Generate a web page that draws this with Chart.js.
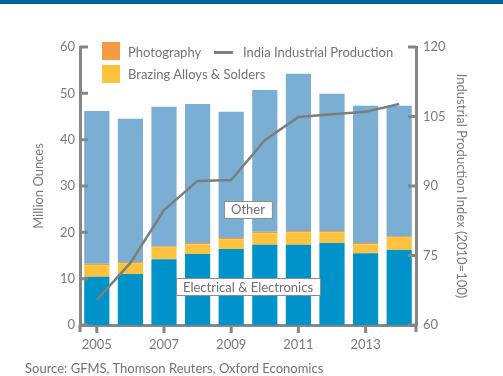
<!DOCTYPE html>
<html>
<head>
<meta charset="utf-8">
<script src="https://cdn.jsdelivr.net/npm/chart.js@4.4.1/dist/chart.umd.min.js"></script>
<style>
  html, body { margin: 0; padding: 0; background: #fff; }
  body { width: 503px; height: 376px; position: relative; overflow: hidden; font-family: Lato, sans-serif; color: #737373; }
  .band { position: absolute; left: 0; top: 0; width: 503px; height: 4px; background: #00629e; }
  #wrap { position: absolute; left: 0; top: 0; width: 503px; height: 376px; }
  .lg { position: absolute; font-size: 13px; line-height: 18px; white-space: nowrap; }
  .sw { position: absolute; width: 18px; height: 18px; }
  .ln { position: absolute; width: 19px; height: 3px; background: #7f7f7f; }
  .src { position: absolute; left: 25px; top: 360px; font-size: 13px; white-space: nowrap; }
</style>
</head>
<body>
<div class="band"></div>
<div id="wrap"><canvas id="silverChart" width="503" height="376"></canvas></div>
<div class="sw" style="left:102px;top:42px;background:#f59b42"></div>
<div class="lg" style="left:128px;top:43px">Photography</div>
<div class="ln" style="left:214px;top:51px"></div>
<div class="lg" style="left:243px;top:43px">India Industrial Production</div>
<div class="sw" style="left:102px;top:65px;background:#fdc33f"></div>
<div class="lg" style="left:128px;top:65px">Brazing Alloys &amp; Solders</div>
<div class="src">Source: GFMS, Thomson Reuters, Oxford Economics</div>
<script>
(function () {
    const years = ['2005', '2006', '2007', '2008', '2009', '2010', '2011', '2012', '2013', '2014'];
    const electrical = [10.4, 11.0, 14.2, 15.3, 16.4, 17.3, 17.3, 17.7, 15.5, 16.2];
    const brazing = [2.5, 2.3, 2.5, 2.1, 2.1, 2.5, 2.7, 2.3, 1.9, 2.7];
    const photography = [0.3, 0.3, 0.3, 0.3, 0.3, 0.3, 0.3, 0.3, 0.3, 0.3];
    const other = [33.0, 30.9, 30.1, 30.0, 27.2, 30.6, 33.9, 29.6, 29.6, 28.1];
    const indiaIP = [65.4, 73.4, 84.8, 91.1, 91.3, 99.9, 104.9, 105.5, 106.0, 107.7];
    const leftTicks = [0, 10, 20, 30, 40, 50, 60];
    const rightTicks = [60, 75, 90, 105, 120];

    const axisGrey = '#868686';
    const labelGrey = '#7a7a7a';
    const font = { family: 'Lato', size: 13 };

    // inward tick marks, axis tails and the two boxed labels
    const axisDecor = {
        id: 'axisDecor',
        afterDraw(chart) {
            const { ctx, chartArea: a, scales } = chart;
            ctx.save();
            ctx.strokeStyle = axisGrey;
            ctx.lineWidth = 3;
            ctx.beginPath();
            leftTicks.forEach(v => {
                const y = scales.y.getPixelForValue(v);
                ctx.moveTo(a.left, y); ctx.lineTo(a.left + 8, y);
            });
            rightTicks.forEach(v => {
                const y = scales.y1.getPixelForValue(v);
                ctx.moveTo(a.right - 8, y); ctx.lineTo(a.right, y);
            });
            years.forEach((y, i) => {
                if (i % 2) return;
                const x = scales.x.getPixelForValue(i);
                ctx.moveTo(x, a.bottom); ctx.lineTo(x, a.bottom + 8);
            });
            ctx.moveTo(a.left, a.bottom); ctx.lineTo(a.left, a.bottom + 7);
            ctx.moveTo(a.right, a.bottom); ctx.lineTo(a.right, a.bottom + 7);
            ctx.stroke();

            const cx = (scales.x.getPixelForValue(4) + scales.x.getPixelForValue(5)) / 2;
            box(ctx, 'Other', cx, scales.y.getPixelForValue(25));
            box(ctx, 'Electrical & Electronics', cx, scales.y.getPixelForValue(8.3));
            ctx.restore();
        }
    };

    function box(ctx, txt, cx, cy) {
        ctx.font = '13px Lato';
        const w = ctx.measureText(txt).width + 14;
        const h = 17;
        const x = Math.round(cx - w / 2) + 0.5, y = Math.round(cy - h / 2) + 0.5;
        ctx.fillStyle = '#fff';
        ctx.fillRect(x, y, w, h);
        ctx.lineWidth = 1;
        ctx.strokeStyle = '#8c8c8c';
        ctx.strokeRect(x, y, w, h);
        ctx.fillStyle = '#6f6f6f';
        ctx.textAlign = 'center';
        ctx.textBaseline = 'middle';
        ctx.fillText(txt, cx, cy + 1);
    }

    const barOpts = { stack: 's', yAxisID: 'y', barPercentage: 0.75, categoryPercentage: 1, borderWidth: 0 };

    new Chart(document.getElementById('silverChart'), {
        data: {
            labels: years,
            datasets: [
                { type: 'line', label: 'India Industrial Production', data: indiaIP, yAxisID: 'y1',
                  borderColor: '#7d7d7d', borderWidth: 2.5, pointRadius: 0, tension: 0, order: 0 },
                Object.assign({ type: 'bar', label: 'Electrical & Electronics', data: electrical, backgroundColor: '#0093c9', order: 1 }, barOpts),
                Object.assign({ type: 'bar', label: 'Brazing Alloys & Solders', data: brazing, backgroundColor: '#fdc33f', order: 1 }, barOpts),
                Object.assign({ type: 'bar', label: 'Photography', data: photography, backgroundColor: '#f59b42', order: 1 }, barOpts),
                Object.assign({ type: 'bar', label: 'Other', data: other, backgroundColor: '#7aaed2', order: 1 }, barOpts)
            ]
        },
        options: {
            responsive: false,
            animation: false,
            layout: { padding: { top: 47, left: 0, right: 0, bottom: 19 } },
            plugins: { legend: { display: false }, tooltip: { enabled: false } },
            scales: {
                x: {
                    stacked: true,
                    offset: true,
                    grid: { display: false, drawTicks: false },
                    border: { display: true, color: axisGrey, width: 3 },
                    ticks: {
                        color: labelGrey, font, padding: 12, maxRotation: 0, autoSkip: false,
                        callback: (v, i) => (i % 2 ? '' : years[i])
                    },
                    afterFit: s => { s.height = 32; }
                },
                y: {
                    position: 'left',
                    stacked: true,
                    min: 0, max: 60,
                    grid: { display: false, drawTicks: false },
                    border: { display: true, color: axisGrey, width: 3 },
                    ticks: { stepSize: 10, color: labelGrey, font, padding: 5 },
                    title: { display: true, text: 'Million Ounces', color: labelGrey, font, padding: { top: 31, bottom: 0 } },
                    afterFit: s => { s.width = 80; }
                },
                y1: {
                    position: 'right',
                    min: 60, max: 120,
                    grid: { display: false, drawTicks: false },
                    border: { display: true, color: axisGrey, width: 3 },
                    ticks: { stepSize: 15, color: labelGrey, font, padding: 7 },
                    title: { display: true, text: 'Industrial Production Index (2010=100)', color: labelGrey, font, padding: { top: 34, bottom: 0 } },
                    afterFit: s => { s.width = 87; }
                }
            }
        },
        plugins: [axisDecor]
    });
})();
</script>
</body>
</html>
